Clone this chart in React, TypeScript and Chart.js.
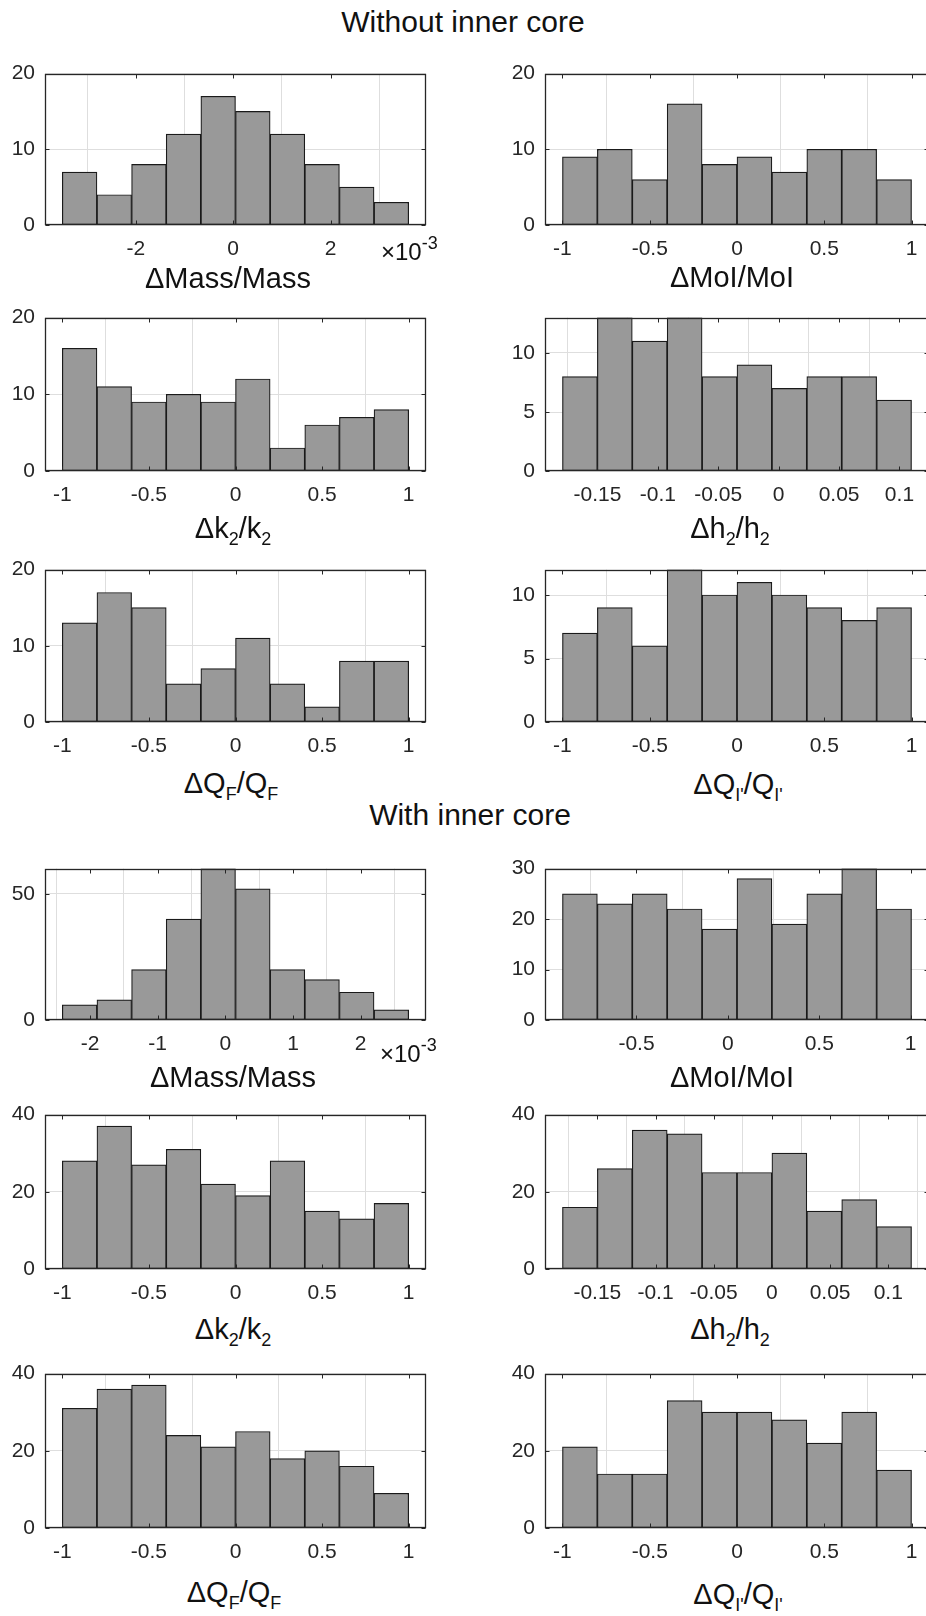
import React, { useEffect, useRef } from 'react';
import { Chart, registerables } from 'chart.js';
Chart.register(...registerables);

const FONT = "'Liberation Sans', Arial, Helvetica, sans-serif";
const INK = '#262626';

// ---------- Without inner core ----------
const woMassEdges = [-3.508, -2.797, -2.086, -1.375, -0.664, 0.047, 0.758, 1.469, 2.18, 2.891, 3.602]; // ×10^-3
const woMassCounts = [7, 4, 8, 12, 17, 15, 12, 8, 5, 3];
const unitEdges = [-1, -0.8, -0.6, -0.4, -0.2, 0, 0.2, 0.4, 0.6, 0.8, 1];
const woMoiCounts = [9, 10, 6, 16, 8, 9, 7, 10, 10, 6];
const woK2Counts = [16, 11, 9, 10, 9, 12, 3, 6, 7, 8];
const woH2Edges = [-0.179, -0.1501, -0.1212, -0.0923, -0.0634, -0.0345, -0.0056, 0.0233, 0.0522, 0.0811, 0.11];
const woH2Counts = [8, 13, 11, 13, 8, 9, 7, 8, 8, 6];
const woQfCounts = [13, 17, 15, 5, 7, 11, 5, 2, 8, 8];
const woQiCounts = [7, 9, 6, 12, 10, 11, 10, 9, 8, 9];

// ---------- With inner core ----------
const wMassEdges = [-2.41, -1.898, -1.386, -0.874, -0.362, 0.15, 0.662, 1.174, 1.686, 2.198, 2.71]; // ×10^-3
const wMassCounts = [6, 8, 20, 40, 60, 52, 20, 16, 11, 4];
const wMoiEdges = [-0.905, -0.714, -0.523, -0.332, -0.141, 0.05, 0.241, 0.432, 0.623, 0.814, 1.005];
const wMoiCounts = [25, 23, 25, 22, 18, 28, 19, 25, 30, 22];
const wK2Counts = [28, 37, 27, 31, 22, 19, 28, 15, 13, 17];
const wH2Edges = [-0.18, -0.15, -0.12, -0.09, -0.06, -0.03, 0, 0.03, 0.06, 0.09, 0.12];
const wH2Counts = [16, 26, 36, 35, 25, 25, 30, 15, 18, 11];
const wQfCounts = [31, 36, 37, 24, 21, 25, 18, 20, 16, 9];
const wQiCounts = [21, 14, 14, 33, 30, 30, 28, 22, 30, 15];

// ---------- tick labels ----------
const unitTicks = [-1, -0.5, 0, 0.5, 1];
const massTicksA = [-2, 0, 2];
const massTicksB = [-2, -1, 0, 1, 2];
const moiTicksB = [-0.5, 0, 0.5, 1];
const h2Ticks = [-0.15, -0.1, -0.05, 0, 0.05, 0.1];
const yTicks20 = [0, 10, 20];
const yTicks5 = [0, 5, 10];
const yTicks50 = [0, 50];
const yTicks30 = [0, 10, 20, 30];
const yTicks40 = [0, 20, 40];

const COLS = [{ l: 45, r: 426 }, { l: 545, r: 929 }];
const ROWS = [
  { t: 67, b: 225 }, { t: 311, b: 471 }, { t: 563, b: 722 },
  { t: 862, b: 1020 }, { t: 1108, b: 1269 }, { t: 1367, b: 1528 },
];
const YW = 45, PT = 16, PR = 8, XH = 44;

const Sub = ({ children }: any) => (
  <span style={{ fontSize: '0.62em', position: 'relative', top: '0.37em', lineHeight: 0 }}>{children}</span>
);

type Panel = {
  edges: number[]; counts: number[]; xTicks: number[]; yTicks: number[]; yMax: number;
  col: number; row: number; label: React.ReactNode; lx: number; ly: number;
};

const L_MASS = <>ΔMass/Mass</>;
const L_MOI = <>ΔMoI/MoI</>;
const L_K2 = <>Δk<Sub>2</Sub>/k<Sub>2</Sub></>;
const L_H2 = <>Δh<Sub>2</Sub>/h<Sub>2</Sub></>;
const L_QF = <>ΔQ<Sub>F</Sub>/Q<Sub>F</Sub></>;
const L_QI = <>ΔQ<Sub>I'</Sub>/Q<Sub>I'</Sub></>;

const panels: Panel[] = [
  { edges: woMassEdges, counts: woMassCounts, xTicks: massTicksA, yTicks: yTicks20, yMax: 20, col: 0, row: 0, label: L_MASS, lx: 228, ly: 289 },
  { edges: unitEdges, counts: woMoiCounts, xTicks: unitTicks, yTicks: yTicks20, yMax: 20, col: 1, row: 0, label: L_MOI, lx: 732, ly: 288 },
  { edges: unitEdges, counts: woK2Counts, xTicks: unitTicks, yTicks: yTicks20, yMax: 20, col: 0, row: 1, label: L_K2, lx: 233, ly: 539 },
  { edges: woH2Edges, counts: woH2Counts, xTicks: h2Ticks, yTicks: yTicks5, yMax: 13, col: 1, row: 1, label: L_H2, lx: 730, ly: 539 },
  { edges: unitEdges, counts: woQfCounts, xTicks: unitTicks, yTicks: yTicks20, yMax: 20, col: 0, row: 2, label: L_QF, lx: 231, ly: 794 },
  { edges: unitEdges, counts: woQiCounts, xTicks: unitTicks, yTicks: yTicks5, yMax: 12, col: 1, row: 2, label: L_QI, lx: 738, ly: 795 },
  { edges: wMassEdges, counts: wMassCounts, xTicks: massTicksB, yTicks: yTicks50, yMax: 60, col: 0, row: 3, label: L_MASS, lx: 233, ly: 1088 },
  { edges: wMoiEdges, counts: wMoiCounts, xTicks: moiTicksB, yTicks: yTicks30, yMax: 30, col: 1, row: 3, label: L_MOI, lx: 732, ly: 1088 },
  { edges: unitEdges, counts: wK2Counts, xTicks: unitTicks, yTicks: yTicks40, yMax: 40, col: 0, row: 4, label: L_K2, lx: 233, ly: 1340 },
  { edges: wH2Edges, counts: wH2Counts, xTicks: h2Ticks, yTicks: yTicks40, yMax: 40, col: 1, row: 4, label: L_H2, lx: 730, ly: 1340 },
  { edges: unitEdges, counts: wQfCounts, xTicks: unitTicks, yTicks: yTicks40, yMax: 40, col: 0, row: 5, label: L_QF, lx: 234, ly: 1603 },
  { edges: unitEdges, counts: wQiCounts, xTicks: unitTicks, yTicks: yTicks40, yMax: 40, col: 1, row: 5, label: L_QI, lx: 738, ly: 1605 },
];

const boxPlugin = {
  id: 'matlabBox',
  afterDatasetsDraw(chart: any) {
    const { ctx, chartArea: a, scales } = chart;
    const L = Math.round(a.left) + 0.5, R = Math.round(a.right) - 0.5;
    const T = Math.round(a.top) + 0.5, B = Math.round(a.bottom) - 0.5;
    const tl = 4;
    ctx.save();
    ctx.strokeStyle = INK;
    ctx.lineWidth = 1;
    ctx.beginPath();
    for (const t of scales.x.ticks) {
      const p = Math.round(scales.x.getPixelForValue(t.value)) + 0.5;
      ctx.moveTo(p, B); ctx.lineTo(p, B - tl);
      ctx.moveTo(p, T); ctx.lineTo(p, T + tl);
    }
    for (const t of scales.y.ticks) {
      const p = Math.round(scales.y.getPixelForValue(t.value)) + 0.5;
      ctx.moveTo(L, p); ctx.lineTo(L + tl, p);
      ctx.moveTo(R, p); ctx.lineTo(R - tl, p);
    }
    ctx.stroke();
    ctx.lineWidth = 1.3;
    ctx.strokeRect(L, T, R - L, B - T);
    ctx.restore();
  },
};

function Hist({ p }: { p: Panel }) {
  const ref = useRef<HTMLCanvasElement>(null);
  const col = COLS[p.col], row = ROWS[p.row];
  const W = col.r - col.l + YW + PR;
  const H = row.b - row.t + PT + XH;
  useEffect(() => {
    const n = p.counts.length;
    const w = p.edges[1] - p.edges[0];
    const xMin = p.edges[0] - w / 2, xMax = p.edges[n] + w / 2;
    const pts = p.counts.map((c, i) => ({ x: (p.edges[i] + p.edges[i + 1]) / 2, y: c }));
    const tickFont = { family: FONT, size: 21 };
    const chart = new Chart(ref.current!, {
      type: 'bar',
      data: {
        datasets: [{
          data: pts as any,
          backgroundColor: '#999999',
          borderColor: '#1a1a1a',
          borderWidth: 1.2,
          borderSkipped: false,
          barPercentage: 1,
          categoryPercentage: 1,
        }],
      },
      options: {
        animation: false,
        responsive: false,
        maintainAspectRatio: false,
        devicePixelRatio: 1,
        layout: { padding: { top: PT, right: PR, left: 0, bottom: 0 } },
        plugins: { legend: { display: false }, tooltip: { enabled: false } },
        scales: {
          x: {
            type: 'linear', min: xMin, max: xMax, offset: false,
            afterBuildTicks: (s: any) => { s.ticks = p.xTicks.map(v => ({ value: v })); },
            afterFit: (s: any) => { s.height = XH; },
            ticks: { font: tickFont, color: INK, padding: 12, autoSkip: false, maxRotation: 0, callback: (v: any) => String(v) },
            grid: { color: '#dedede', drawTicks: false, lineWidth: 1 },
            border: { display: false },
          },
          y: {
            type: 'linear', min: 0, max: p.yMax,
            afterBuildTicks: (s: any) => { s.ticks = p.yTicks.map(v => ({ value: v })); },
            afterFit: (s: any) => { s.width = YW; },
            ticks: { font: tickFont, color: INK, padding: 10, callback: (v: any) => String(v) },
            grid: { color: '#dedede', drawTicks: false, lineWidth: 1 },
            border: { display: false },
          },
        },
      } as any,
      plugins: [boxPlugin],
    });
    return () => chart.destroy();
  }, [p]);
  return (
    <canvas
      ref={ref}
      width={W}
      height={H}
      style={{ position: 'absolute', left: col.l - YW, top: row.t - PT, width: W, height: H }}
    />
  );
}

function Txt({ x, y, size, children, center = true }: any) {
  const asc = 0.8465 * size;
  const style: any = {
    position: 'absolute', top: y - asc, fontFamily: FONT, fontSize: size,
    lineHeight: `${size}px`, whiteSpace: 'nowrap', color: '#111',
  };
  if (center) { style.left = x - 300; style.width = 600; style.textAlign = 'center'; }
  else { style.left = x; }
  return <div style={style}>{children}</div>;
}

const Exp = () => (
  <>×10<span style={{ fontSize: '0.75em', position: 'relative', top: '-0.6em', lineHeight: 0 }}>-3</span></>
);

export default function App() {
  return (
    <div style={{ position: 'absolute', left: 0, top: 0, width: 926, height: 1616, overflow: 'hidden', background: '#fff' }}>
      <Txt x={463} y={32} size={30}>Without inner core</Txt>
      <Txt x={470} y={825} size={30}>With inner core</Txt>
      {panels.map((p, i) => <Hist key={i} p={p} />)}
      {panels.map((p, i) => <Txt key={'l' + i} x={p.lx} y={p.ly} size={29}>{p.label}</Txt>)}
      <Txt x={381} y={260} size={24} center={false}><Exp /></Txt>
      <Txt x={380} y={1062} size={24} center={false}><Exp /></Txt>
    </div>
  );
}
